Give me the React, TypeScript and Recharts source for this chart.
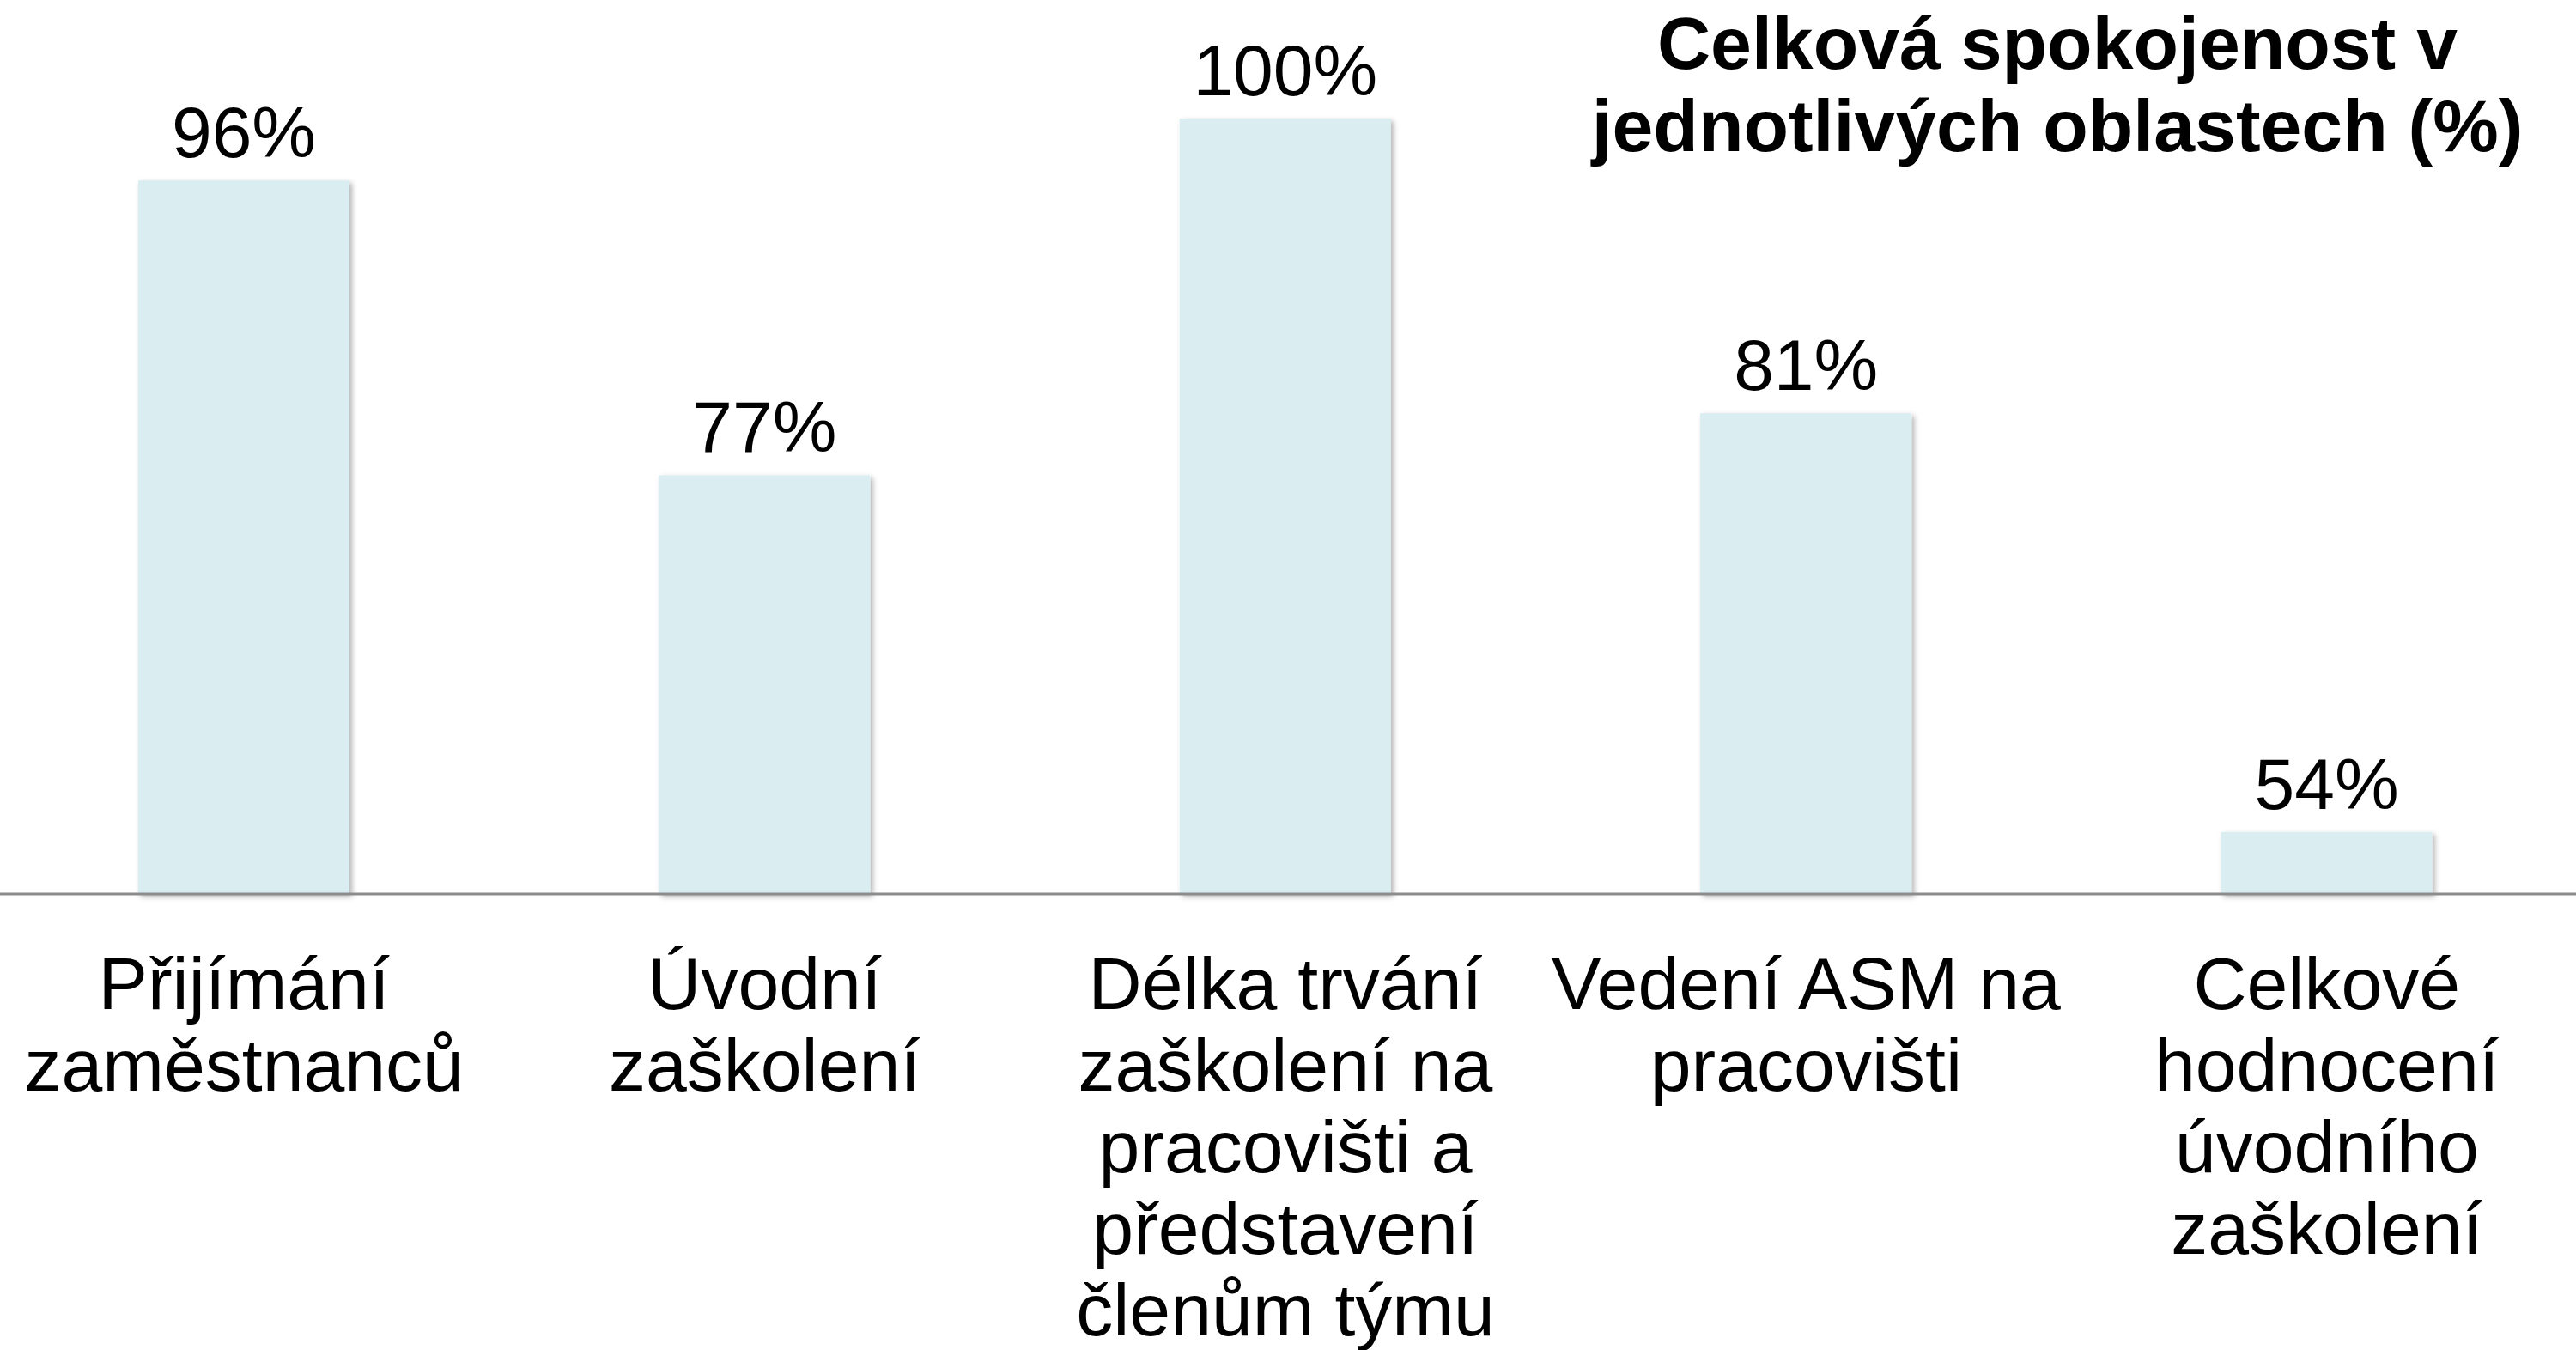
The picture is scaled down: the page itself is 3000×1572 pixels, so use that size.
import React from "react";
import { BarChart, Bar, XAxis, YAxis, LabelList } from "recharts";

const categories = [
  "Přijímání\nzaměstnanců",
  "Úvodní\nzaškolení",
  "Délka trvání\nzaškolení na\npracovišti a\npředstavení\nčlenům týmu",
  "Vedení ASM na\npracovišti",
  "Celkové\nhodnocení\núvodního\nzaškolení",
];
const satisfaction = [96, 77, 100, 81, 54];
const titleLines = ["Celková spokojenost v", "jednotlivých oblastech (%)"];

const data = categories.map((name, i) => ({ name, value: satisfaction[i] }));

const FONT = "'Liberation Sans', Arial, Helvetica, sans-serif";

const CategoryTick = (props: any) => {
  const { x, y, payload } = props;
  const lines = String(payload.value).split("\n");
  return (
    <text
      x={x}
      y={y}
      textAnchor="middle"
      fill="#000"
      fontSize={86}
      fontFamily={FONT}
    >
      {lines.map((line, i) => (
        <tspan key={i} x={x} dy={i === 0 ? 134 : 95}>
          {line}
        </tspan>
      ))}
    </text>
  );
};

const ShadowBar = (props: any) => {
  const { x, y, width, height, fill, index } = props;
  const id = `bar-shadow-${index}`;
  return (
    <g>
      <defs>
        <filter id={id} x="-10%" y="-10%" width="130%" height="130%">
          <feDropShadow dx="3" dy="3" stdDeviation="3" floodColor="#000" floodOpacity="0.3" />
        </filter>
      </defs>
      <rect x={x} y={y} width={width} height={height} fill={fill} filter={`url(#${id})`} />
    </g>
  );
};

const App = () => {
  return (
    <div style={{ position: "absolute", left: -19, top: 0, width: 3032, height: 1572 }}>
      <BarChart
        width={3032}
        height={1572}
        data={data}
        margin={{ top: 138, right: 0, bottom: 0, left: 0 }}
        barCategoryGap={0}
      >
        <XAxis
          dataKey="name"
          interval={0}
          height={531}
          tickLine={false}
          tickSize={0}
          tickMargin={0}
          axisLine={{ stroke: "#8c8c8c", strokeWidth: 3 }}
          tick={<CategoryTick />}
        />
        <YAxis hide domain={[50, 100]} />
        <Bar
          dataKey="value"
          fill="#daedf0"
          barSize={246}
          shape={<ShadowBar />}
          isAnimationActive={false}
        >
          <LabelList
            dataKey="value"
            position="top"
            offset={27}
            formatter={(v: any) => `${v}%`}
            fill="#000"
            fontSize={84}
            fontFamily={FONT}
          />
        </Bar>
      </BarChart>
      <div
        style={{
          position: "absolute",
          left: 2415 - 700,
          top: 0,
          width: 1400,
          textAlign: "center",
          fontFamily: FONT,
          fontWeight: "bold",
          fontSize: 86,
          lineHeight: "96px",
          color: "#000",
          paddingTop: 2,
        }}
      >
        {titleLines.map((l, i) => (
          <div key={i}>{l}</div>
        ))}
      </div>
    </div>
  );
};

export default App;
